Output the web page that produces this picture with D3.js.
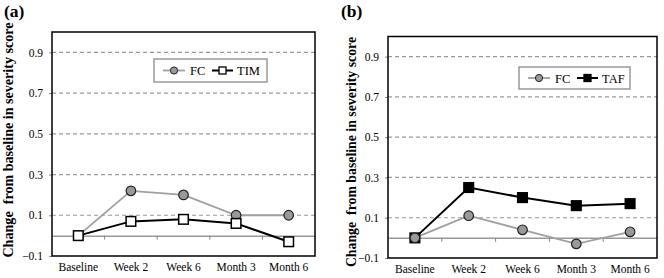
<!DOCTYPE html>
<html><head><meta charset="utf-8">
<script src="https://cdn.jsdelivr.net/npm/d3@7"></script>
<style>
body{margin:0;background:#fff;}
svg{display:block;}
</style></head>
<body>
<svg id="c" width="664" height="278"></svg>
<script>
const categories = ["Baseline","Week 2","Week 6","Month 3","Month 6"];
const yTicks = [-0.1, 0.1, 0.3, 0.5, 0.7, 0.9];
const fcA = [0, 0.22, 0.20, 0.10, 0.10];
const timA = [0, 0.07, 0.08, 0.06, -0.03];
const fcB = [0, 0.11, 0.04, -0.03, 0.03];
const tafB = [0, 0.25, 0.20, 0.16, 0.17];

const FONT = "Liberation Serif";
const svg = d3.select("#c").attr("font-family", FONT);

function panel(cfg){
  const g = svg.append("g");
  const x = d3.scaleBand().domain(categories).range([cfg.x0, cfg.x1]).padding(0);
  const y = d3.scaleLinear().domain([-0.1, 1.0]).range([cfg.y1, cfg.y0]);

  g.selectAll("line.grid").data(yTicks.filter(v=>v>0)).join("line")
    .attr("x1", cfg.x0).attr("x2", cfg.x1)
    .attr("y1", d=>y(d)).attr("y2", d=>y(d))
    .attr("stroke","#9a9a9a").attr("stroke-width",1.2).attr("stroke-dasharray","4,3");

  const xAxis = d3.axisBottom(x).tickSize(0).tickFormat("");
  const xa = g.append("g").attr("transform",`translate(0,${y(0)})`).call(xAxis);
  xa.select(".domain").attr("stroke","#999").attr("stroke-width",1.5);
  xa.selectAll(".tick").remove();
  g.selectAll("line.sep").data(categories.slice(1)).join("line")
    .attr("x1", d=>x(d)).attr("x2", d=>x(d))
    .attr("y1", y(0)).attr("y2", y(0)+4)
    .attr("stroke","#888").attr("stroke-width",1);

  const yAxis = d3.axisLeft(y).tickValues(yTicks).tickSize(3).tickPadding(6).tickFormat(d3.format(".1f"));
  const ya = g.append("g").attr("transform",`translate(${cfg.x0},0)`).call(yAxis);
  ya.attr("font-family", FONT).attr("font-size", 11.5);
  ya.select(".domain").remove();
  ya.selectAll(".tick line").attr("stroke","#888");
  ya.selectAll("text").attr("font-family", FONT).attr("font-size",11.5).attr("fill","#000");

  g.selectAll("text.xl").data(categories).join("text")
    .attr("font-family", FONT)
    .attr("x", d=>x(d)+x.bandwidth()/2).attr("y", cfg.y1+15)
    .attr("text-anchor","middle").attr("font-size",11.5).text(d=>d);

  g.append("rect").attr("x",cfg.x0).attr("y",cfg.y0)
    .attr("width",cfg.x1-cfg.x0).attr("height",cfg.y1-cfg.y0)
    .attr("fill","none").attr("stroke","#000").attr("stroke-width",1.5);

  const cx = d=>x(d)+x.bandwidth()/2;
  const line = d3.line().x((d,i)=>cx(categories[i])).y(d=>y(d));

  g.append("path").datum(cfg.fc).attr("d",line)
    .attr("fill","none").attr("stroke","#a0a0a0").attr("stroke-width",1.8);
  g.append("path").datum(cfg.other).attr("d",line)
    .attr("fill","none").attr("stroke","#000").attr("stroke-width",2);

  const drawFC = ()=> g.selectAll("circle.fc").data(cfg.fc).join("circle")
    .attr("cx",(d,i)=>cx(categories[i])).attr("cy",d=>y(d)).attr("r",4.8)
    .attr("fill","#999").attr("stroke","#222").attr("stroke-width",1.2);
  const drawSq = ()=> g.selectAll("rect.sq").data(cfg.other).join("rect")
    .attr("x",(d,i)=>cx(categories[i])-4.8).attr("y",d=>y(d)-4.8)
    .attr("width",9.6).attr("height",9.6)
    .attr("fill",cfg.sqFill).attr("stroke","#000").attr("stroke-width",1.5);
  if(cfg.sqFirst){ drawFC(); drawSq(); } else { drawSq(); drawFC(); }

  const L = cfg.leg;
  g.append("rect").attr("x",L.x).attr("y",L.y).attr("width",L.w).attr("height",L.h)
    .attr("fill","#fff").attr("stroke","#999").attr("stroke-width",1.5);
  const ly = L.y + L.h/2;
  g.append("line").attr("x1",L.x+9).attr("x2",L.x+31).attr("y1",ly).attr("y2",ly)
    .attr("stroke","#a0a0a0").attr("stroke-width",1.8);
  g.append("circle").attr("cx",L.x+20).attr("cy",ly).attr("r",3.6)
    .attr("fill","#999").attr("stroke","#222").attr("stroke-width",1);
  g.append("text").attr("font-family", FONT).attr("x",L.x+36).attr("y",ly+4.5).attr("font-size",12.5).text("FC");
  g.append("line").attr("x1",L.x+58).attr("x2",L.x+79).attr("y1",ly).attr("y2",ly)
    .attr("stroke","#000").attr("stroke-width",2);
  g.append("rect").attr("x",L.x+68.5-3.5).attr("y",ly-3.5).attr("width",7).attr("height",7)
    .attr("fill",cfg.sqFill).attr("stroke","#000").attr("stroke-width",1.3);
  g.append("text").attr("font-family", FONT).attr("x",L.x+83).attr("y",ly+4.5).attr("font-size",12.5).text(cfg.name);

  g.append("text").attr("font-family", FONT)
    .attr("transform",`translate(${cfg.tx},${cfg.tc}) rotate(-90)`)
    .attr("text-anchor","middle").attr("font-weight","bold").attr("font-size",cfg.tfs)
    .style("white-space","pre")
    .text("Change  from baseline in severity score");

  g.append("text").attr("font-family", FONT).attr("x",cfg.px).attr("y",17).attr("font-weight","bold").attr("font-size",17.5)
    .text(cfg.label);
}

panel({x0:52,x1:315,y0:32,y1:256,fc:fcA,other:timA,sqFill:"#fff",name:"TIM",sqFirst:true,
  leg:{x:154,y:59,w:113,h:23},tx:13,tc:140,tfs:14.1,px:4,label:"(a)"});
panel({x0:388,x1:657,y0:36.5,y1:258,fc:fcB,other:tafB,sqFill:"#000",name:"TAF",sqFirst:false,
  leg:{x:519,y:67,w:111,h:22},tx:356,tc:152,tfs:13.8,px:341,label:"(b)"});
</script>
</body></html>
